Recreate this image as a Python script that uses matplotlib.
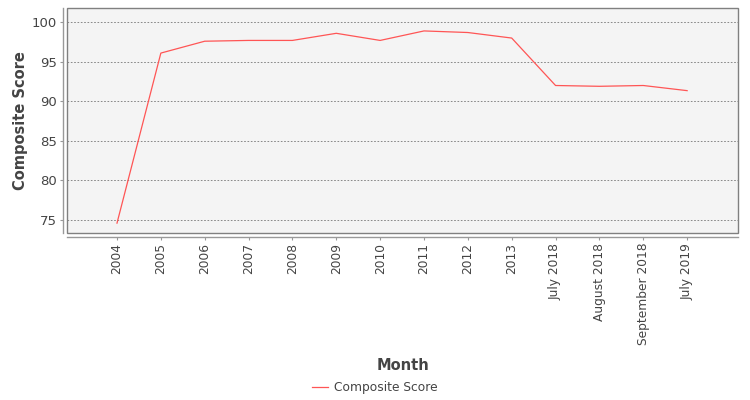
import matplotlib
matplotlib.use("Agg")
import matplotlib.pyplot as plt
from matplotlib.patches import Rectangle

# data
months = ["2004", "2005", "2006", "2007", "2008", "2009", "2010", "2011",
          "2012", "2013", "July 2018", "August 2018", "September 2018", "July 2019"]
scores = [74.6, 96.1, 97.6, 97.7, 97.7, 98.6, 97.7, 98.9,
          98.7, 98.0, 92.0, 91.9, 92.0, 91.35]
y_ticks = [75, 80, 85, 90, 95, 100]

text_col = "#444444"
axis_col = "#999999"
line_col = "#ff5555"

plt.rcParams["font.family"] = "DejaVu Sans"

fig = plt.figure(figsize=(7.5, 4), dpi=100)
ax = fig.add_axes([67 / 750, 1 - 233 / 400, 671 / 750, 225 / 400])
ax.set_facecolor("#f4f4f4")

xs = list(range(len(months)))
ax.plot(xs, scores, color=line_col, lw=0.9, label="Composite Score")

ax.set_xlim(-1.14, len(months) - 1 + 1.16)
ax.set_ylim(73.35, 101.8)
ax.set_yticks(y_ticks)
ax.set_xticks(xs)
ax.set_xticklabels(months)

ax.grid(axis="y", color="#777777", ls=(0, (2, 2)), lw=0.6)
ax.set_axisbelow(True)

# plot border + offset axis lines like the original
for s in ["top", "right"]:
    ax.spines[s].set_visible(False)
for s in ["left", "bottom"]:
    ax.spines[s].set_position(("outward", 3))
    ax.spines[s].set_color(axis_col)
    ax.spines[s].set_linewidth(1.0)
ax.add_patch(Rectangle((0, 0), 1, 1, transform=ax.transAxes, fill=False,
                       ec="#808080", lw=1.0, clip_on=False, zorder=5))

ax.tick_params(axis="both", colors=axis_col, labelcolor=text_col,
               labelsize=8.8, length=2, width=0.8, pad=2)
ax.tick_params(axis="x", labelrotation=90)
ax.tick_params(axis="y", labelsize=9.5)

ax.set_xlabel("Month", fontsize=10.5, fontweight="bold", color=text_col, labelpad=9)
ax.set_ylabel("Composite Score", fontsize=10.5, fontweight="bold", color=text_col, labelpad=3)

fig.legend(loc="lower center", bbox_to_anchor=(0.5, -0.012), frameon=False,
           fontsize=8.8, labelcolor=text_col, handlelength=1.3, handletextpad=0.5)

fig.savefig("out.png", dpi=100)
